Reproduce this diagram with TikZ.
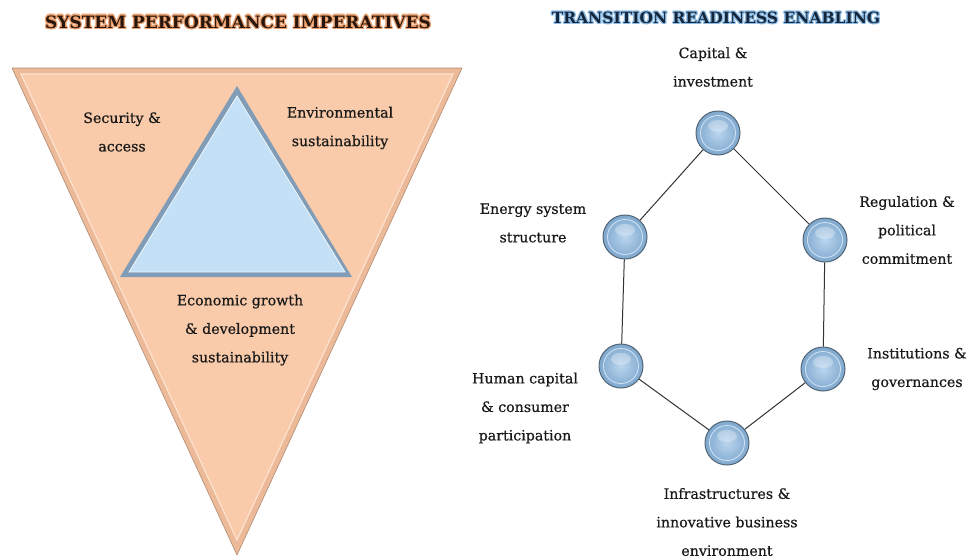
\documentclass[tikz,border=0pt]{standalone}
\usepackage{fontspec}
\setmainfont{DejaVu Serif}
\newfontfamily\notefont{DejaVu Serif}[FakeBold=0.6]
\usepackage{tikz}
\usetikzlibrary{positioning}
\definecolor{peach}{RGB}{249,203,170}
\definecolor{peachdark}{RGB}{236,186,152}
\definecolor{peachlight}{RGB}{253,226,206}
\definecolor{skyfill}{RGB}{196,224,246}
\definecolor{skyedge}{RGB}{128,156,182}
\definecolor{ballblue}{RGB}{140,186,228}
\definecolor{titlebrown}{RGB}{40,22,12}
\definecolor{titleglow}{RGB}{236,160,110}
\definecolor{titlenavy}{RGB}{22,38,58}
\definecolor{titlesky}{RGB}{140,188,230}
\tikzset{
  note/.style={
    align=center,
    font=\notefont\fontsize{14.2}{28.5}\selectfont,
    text=black!90,
    inner sep=0pt
  },
  heading/.style={
    font=\fontsize{#1}{20}\selectfont\bfseries,
    inner sep=1pt
  },
  hub/.style={
    circle,
    minimum size=44pt,
    draw=black!35!skyedge,
    line width=1pt,
    inner color=white!40!ballblue,
    outer color=ballblue!90!black,
    path picture={
      \draw[white!55!ballblue, line width=0.9pt]
        (path picture bounding box.center) circle (17.5pt);
      \fill[white, opacity=0.3]
        ([yshift=7pt]path picture bounding box.center) ellipse (10pt and 6pt);
    }
  },
  link/.style={
    draw=black!80,
    line width=1pt
  }
}

\begin{document}
\begin{tikzpicture}[x=1pt,y=-1pt]
        \useasboundingbox (0,0) rectangle (978,560);
        % left half: the two triangles
        \fill[peachdark, draw=black!25!peachdark, line width=0.6pt] (12,68) -- (462,68) -- (237,555) -- cycle;
        \fill[peach, draw=peachlight, line width=1.2pt] (21,74) -- (453,74) -- (237,540) -- cycle;
        \fill[skyedge] (237,86) -- (352,277) -- (120,277) -- cycle;
        \fill[skyfill, draw=white!70!skyfill, line width=0.8pt] (237,96) -- (345,272) -- (129,272) -- cycle;
        \node[note] (security) at (122,132) {Security \&\\access};
        \node[note] (environment) at (340,128) {Environmental\\sustainability};
        \node[note] (economy) at (240,330) {Economic growth\\\& development\\sustainability};
        % headings with a soft halo
        \foreach \a in {0,45,...,315} {
          \node[heading=17, text=titleglow] at ([shift={(\a:1.3pt)}]238,22) {SYSTEM PERFORMANCE IMPERATIVES};
          \node[heading=15.5, text=titlesky] at ([shift={(\a:1.3pt)}]716,18) {TRANSITION READINESS ENABLING};
        }
        \node[heading=17, text=titlebrown] (leftHead) at (238,22) {SYSTEM PERFORMANCE IMPERATIVES};
        \node[heading=15.5, text=titlenavy] (rightHead) at (716,18) {TRANSITION READINESS ENABLING};
        % right half: the ring of enablers
        \node[hub] (capital) at (718,133) {};
        \node[hub] (energy) at (625,237) {};
        \node[hub] (regulation) at (825,240) {};
        \node[hub] (human) at (621,366) {};
        \node[hub] (institutions) at (823,369) {};
        \node[hub] (infra) at (727,443) {};
        \draw[link] (capital) -- (energy);
        \draw[link] (capital) -- (regulation);
        \draw[link] (energy) -- (human);
        \draw[link] (regulation) -- (institutions);
        \draw[link] (human) -- (infra);
        \draw[link] (institutions) -- (infra);
        \node[note, on grid, above left=66pt and 5pt of capital] (capitalLbl) {Capital \&\\investment};
        \node[note, on grid, above left=14pt and 92pt of energy] (energyLbl) {Energy system\\structure};
        \node[note, on grid, above right=10pt and 82pt of regulation] (regulationLbl) {Regulation \&\\political\\commitment};
        \node[note, on grid, below left=42pt and 96pt of human] (humanLbl) {Human capital\\\& consumer\\participation};
        \node[note, on grid, right=94pt of institutions] (institutionsLbl) {Institutions \&\\governances};
        \node[note, on grid, below=79pt of infra] (infraLbl) {Infrastructures \&\\innovative business\\environment};
      \end{tikzpicture}
\end{document}
